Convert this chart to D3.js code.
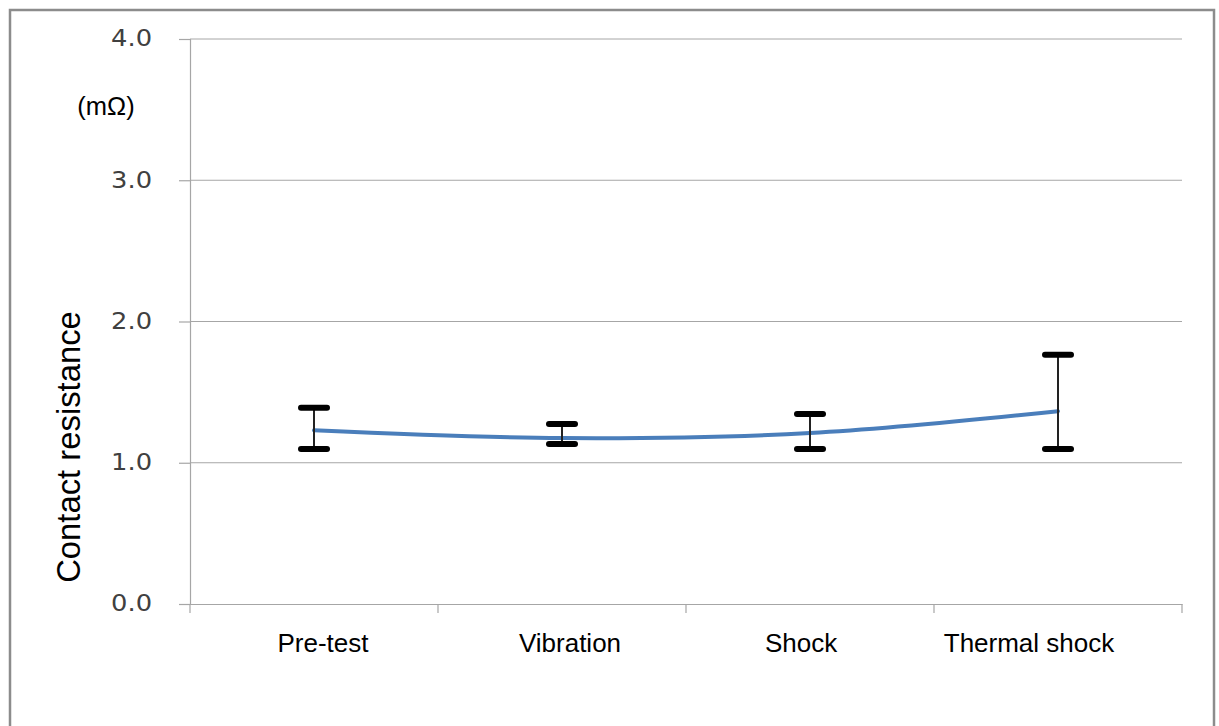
<!DOCTYPE html>
<html><head><meta charset="utf-8">
<script src="https://cdn.jsdelivr.net/npm/d3@7"></script>
<style>body{margin:0;background:#fff}svg{display:block}</style>
</head><body>
<svg id="c" width="1219" height="726"></svg>
<script>
const categories = ["Pre-test", "Vibration", "Shock", "Thermal shock"];
const meanValues = [1.23, 1.175, 1.21, 1.365];
const upperValues = [1.39, 1.275, 1.345, 1.765];
const lowerValues = [1.097, 1.133, 1.097, 1.097];
const yTicks = [0, 1, 2, 3, 4];

// label nudges (layout only, px) to match the original placement
const labelNudge = [9, 8, -9, -29];

const svg = d3.select("#c");
svg.append("rect").attr("x", 10).attr("y", 10).attr("width", 1204).attr("height", 730)
  .attr("fill", "#fff").attr("stroke", "#8c8c8c").attr("stroke-width", 2.5);

const L = 190, R = 1182, T = 39, B = 604;
const x = d3.scaleBand().domain(categories).range([L, R]);
const y = d3.scaleLinear().domain([0, 4]).range([B, T]);

// gridlines
svg.append("g").selectAll("line").data(yTicks.filter(d => d > 0)).join("line")
  .attr("x1", L).attr("x2", R).attr("y1", d => y(d)).attr("y2", d => y(d))
  .attr("stroke", "#a6a6a6").attr("stroke-width", 1);

// y axis
const ya = svg.append("g").attr("transform", `translate(${L},0)`)
  .call(d3.axisLeft(y).tickValues(yTicks).tickFormat(d3.format(".1f")).tickSize(11).tickPadding(27));
ya.select(".domain").attr("stroke", "#a6a6a6").attr("stroke-width", 1.2);
ya.selectAll(".tick line").attr("stroke", "#a6a6a6").attr("stroke-width", 1.2);
ya.selectAll("text").attr("font-family", "DejaVu Sans, Verdana, sans-serif").attr("font-size", 23)
  .attr("fill", "#404040").attr("dy", "0.3em")
  .each(function() {
    const w = this.getComputedTextLength();
    d3.select(this).attr("textLength", w * 1.12).attr("lengthAdjust", "spacingAndGlyphs");
  });

// x axis
const xa = svg.append("g").attr("transform", `translate(0,${B})`)
  .call(d3.axisBottom(x).tickSize(0).tickPadding(30));
xa.select(".domain").attr("stroke", "#a6a6a6").attr("stroke-width", 1.2);
xa.selectAll("text").attr("font-family", "Liberation Sans, Arial, sans-serif").attr("font-size", 26).attr("fill", "#000")
  .attr("dx", (d, i) => labelNudge[i]);
// category boundary ticks
const bounds = categories.map(c => x(c)).concat([R]);
svg.append("g").selectAll("line").data(bounds).join("line")
  .attr("x1", d => d).attr("x2", d => d).attr("y1", B).attr("y2", B + 9)
  .attr("stroke", "#a6a6a6").attr("stroke-width", 1.2);

const cx = c => x(c) + x.bandwidth() / 2;

// line
const line = d3.line().x((d, i) => cx(categories[i])).y(d => y(d)).curve(d3.curveCatmullRom.alpha(0.5));
svg.append("path").datum(meanValues).attr("d", line).attr("fill", "none")
  .attr("stroke", "#4a7ebb").attr("stroke-width", 4).attr("stroke-linecap", "round");

// error bars vertical
svg.append("g").selectAll("line").data(categories).join("line")
  .attr("x1", cx).attr("x2", cx)
  .attr("y1", (c, i) => y(upperValues[i])).attr("y2", (c, i) => y(lowerValues[i]))
  .attr("stroke", "#222").attr("stroke-width", 2);

// caps
const caps = upperValues.map((v, i) => ({c: categories[i], v})).concat(lowerValues.map((v, i) => ({c: categories[i], v})));
svg.append("g").selectAll("line").data(caps).join("line")
  .attr("x1", d => cx(d.c) - 13).attr("x2", d => cx(d.c) + 13)
  .attr("y1", d => y(d.v)).attr("y2", d => y(d.v))
  .attr("stroke", "#000").attr("stroke-width", 6).attr("stroke-linecap", "round");

// unit label
svg.append("text").attr("x", 106).attr("y", 115).attr("text-anchor", "middle")
  .attr("font-family", "Liberation Sans, Arial, sans-serif").attr("font-size", 25.5).attr("fill", "#000").text("(mΩ)");

// y title
svg.append("text").attr("transform", `translate(80,447) rotate(-90)`).attr("text-anchor", "middle")
  .attr("font-family", "Liberation Sans, Arial, sans-serif").attr("font-size", 32.8).attr("fill", "#000").text("Contact resistance");
</script>
</body></html>
